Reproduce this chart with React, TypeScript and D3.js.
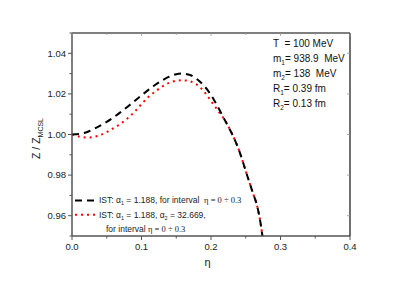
import React, { useEffect, useRef } from "react";
import * as d3 from "d3";

// eta grid and the two ratio curves Z / Z_MCSL
const etaBlack = [0, 0.01, 0.02, 0.03, 0.04, 0.05, 0.06, 0.07, 0.08, 0.09, 0.1, 0.11, 0.12, 0.13, 0.14, 0.15, 0.16, 0.17, 0.18, 0.19, 0.2, 0.21, 0.22, 0.23, 0.24, 0.25, 0.26, 0.265, 0.27, 0.274];
const zBlack = [1.0, 1.0002, 1.001, 1.0025, 1.0042, 1.0062, 1.0085, 1.011, 1.0137, 1.0165, 1.0193, 1.022, 1.0245, 1.0267, 1.0285, 1.0297, 1.03, 1.0293, 1.0272, 1.024, 1.0195, 1.0135, 1.007, 1.0005, 0.9925, 0.982, 0.9715, 0.9665, 0.959, 0.95];
const etaRed = [0, 0.01, 0.02, 0.03, 0.04, 0.05, 0.06, 0.07, 0.08, 0.09, 0.1, 0.11, 0.12, 0.13, 0.14, 0.15, 0.16, 0.17, 0.18, 0.19, 0.2, 0.21, 0.22, 0.23, 0.24, 0.25, 0.26, 0.265, 0.27, 0.274];
const zRed = [1.0, 0.999, 0.9985, 0.9987, 0.9997, 1.0012, 1.0032, 1.0053, 1.008, 1.0112, 1.015, 1.0185, 1.0212, 1.0237, 1.0255, 1.0265, 1.0267, 1.0262, 1.0245, 1.0212, 1.0165, 1.0118, 1.007, 1.0005, 0.9925, 0.982, 0.9715, 0.9665, 0.959, 0.95];

const xMajor = [0, 0.1, 0.2, 0.3, 0.4];
const xMinor = [0.05, 0.15, 0.25, 0.35];
const yMajor = [0.96, 0.98, 1.0, 1.02, 1.04];
const yMinor = [0.95, 0.97, 0.99, 1.01, 1.03, 1.05];

const params = [
  { main: "T", sub: "", rest: "  = 100 MeV" },
  { main: "m", sub: "1", rest: "= 938.9  MeV" },
  { main: "m", sub: "2", rest: "= 138  MeV" },
  { main: "R", sub: "1", rest: "= 0.39 fm" },
  { main: "R", sub: "2", rest: "= 0.13 fm" },
];

const W = 407;
const H = 284;
const FONT = "Liberation Sans, Arial, sans-serif";
const SERIF = "Liberation Serif, Times New Roman, serif";

export default function App() {
  const ref = useRef<SVGSVGElement>(null);

  useEffect(() => {
    const svg = d3.select(ref.current);
    svg.selectAll("*").remove();

    const left = 72, right = 350, top = 33, bottom = 236;
    const x = d3.scaleLinear().domain([0, 0.4]).range([left, right]);
    const y = d3.scaleLinear().domain([0.95, 1.05]).range([bottom, top]);

    svg.append("rect").attr("width", W).attr("height", H).attr("fill", "white");

    const clip = svg.append("clipPath").attr("id", "plot");
    clip.append("rect").attr("x", left).attr("y", top).attr("width", right - left).attr("height", bottom - top + 1);

    const line = d3.line<[number, number]>()
      .x(d => x(d[0]))
      .y(d => y(d[1]))
      .curve(d3.curveCatmullRom);

    const g = svg.append("g").attr("clip-path", "url(#plot)");
    g.append("path")
      .datum(etaRed.map((e, i) => [e, zRed[i]] as [number, number]))
      .attr("d", line)
      .attr("fill", "none")
      .attr("stroke", "#ff0000")
      .attr("stroke-width", 2)
      .attr("stroke-dasharray", "2,4");
    g.append("path")
      .datum(etaBlack.map((e, i) => [e, zBlack[i]] as [number, number]))
      .attr("d", line)
      .attr("fill", "none")
      .attr("stroke", "#000")
      .attr("stroke-width", 2)
      .attr("stroke-dasharray", "7,5");

    // frame
    const axisColor = "#555";
    svg.append("line").attr("x1", left).attr("x2", right).attr("y1", top).attr("y2", top).attr("stroke", axisColor).attr("stroke-width", 1.3);
    svg.append("line").attr("x1", left).attr("x2", right).attr("y1", bottom).attr("y2", bottom).attr("stroke", axisColor).attr("stroke-width", 1.5);
    svg.append("line").attr("x1", left).attr("x2", left).attr("y1", top).attr("y2", bottom).attr("stroke", axisColor).attr("stroke-width", 1.5);
    svg.append("line").attr("x1", right).attr("x2", right).attr("y1", top).attr("y2", bottom).attr("stroke", "#222").attr("stroke-width", 1.3);

    // x ticks
    xMajor.forEach(v => {
      svg.append("line").attr("x1", x(v)).attr("x2", x(v)).attr("y1", bottom).attr("y2", bottom + 4).attr("stroke", axisColor).attr("stroke-width", 1);
      svg.append("line").attr("x1", x(v)).attr("x2", x(v)).attr("y1", top).attr("y2", top + 3).attr("stroke", "#999").attr("stroke-width", 0.8);
      svg.append("text").attr("x", x(v)).attr("y", bottom + 14).attr("text-anchor", "middle")
        .attr("font-family", FONT).attr("font-size", 9.5).attr("fill", "#222").text(d3.format(".1f")(v));
    });
    xMinor.forEach(v => {
      svg.append("line").attr("x1", x(v)).attr("x2", x(v)).attr("y1", bottom).attr("y2", bottom + 2.5).attr("stroke", axisColor).attr("stroke-width", 1);
      svg.append("line").attr("x1", x(v)).attr("x2", x(v)).attr("y1", top).attr("y2", top + 2).attr("stroke", "#999").attr("stroke-width", 0.8);
    });

    // y ticks
    yMajor.forEach(v => {
      svg.append("line").attr("x1", left - 4).attr("x2", left).attr("y1", y(v)).attr("y2", y(v)).attr("stroke", axisColor).attr("stroke-width", 1);
      svg.append("line").attr("x1", right - 3).attr("x2", right).attr("y1", y(v)).attr("y2", y(v)).attr("stroke", "#999").attr("stroke-width", 0.8);
      svg.append("text").attr("x", left - 6).attr("y", y(v)).attr("dy", "0.35em").attr("text-anchor", "end")
        .attr("font-family", FONT).attr("font-size", 9.5).attr("fill", "#222").text(d3.format(".2f")(v));
    });
    yMinor.forEach(v => {
      svg.append("line").attr("x1", left - 2.5).attr("x2", left).attr("y1", y(v)).attr("y2", y(v)).attr("stroke", axisColor).attr("stroke-width", 1);
    });

    // axis titles
    svg.append("text").attr("x", x(0.195)).attr("y", 266).attr("text-anchor", "middle")
      .attr("font-family", FONT).attr("font-size", 11).attr("fill", "#222").text("η");

    const yl = svg.append("text").attr("transform", `translate(40, ${y(1.0) + 4}) rotate(-90)`).attr("text-anchor", "middle")
      .attr("font-family", FONT).attr("font-size", 10.5).attr("fill", "#222");
    yl.append("tspan").text("Z / Z");
    yl.append("tspan").attr("dy", 2.5).attr("font-size", 7).text("MCSL");

    // parameter block
    params.forEach((p, i) => {
      const t = svg.append("text").attr("x", 273).attr("y", 47 + i * 15)
        .attr("font-family", FONT).attr("font-size", 10).attr("fill", "#111")
        .style("white-space", "pre");
      t.append("tspan").text(p.main);
      if (p.sub) {
        t.append("tspan").attr("dy", 2.5).attr("font-size", 6.5).text(p.sub);
        t.append("tspan").attr("dy", -2.5).text(p.rest);
      } else {
        t.append("tspan").text(p.rest);
      }
    });

    // legend
    svg.append("line").attr("x1", 75).attr("x2", 95).attr("y1", y(0.9675)).attr("y2", y(0.9675))
      .attr("stroke", "#000").attr("stroke-width", 2).attr("stroke-dasharray", "7,5");
    svg.append("line").attr("x1", 75).attr("x2", 95).attr("y1", y(0.9605)).attr("y2", y(0.9605))
      .attr("stroke", "#ff0000").attr("stroke-width", 2).attr("stroke-dasharray", "2,4");

    const legendText = (tx: number, ty: number) => svg.append("text").attr("x", tx).attr("y", ty)
      .attr("font-family", FONT).attr("font-size", 8.5).attr("fill", "#222").style("white-space", "pre");

    const l1 = legendText(99, y(0.9675) + 3);
    l1.append("tspan").text("IST: α");
    l1.append("tspan").attr("dy", 2).attr("font-size", 5.5).text("1");
    l1.append("tspan").attr("dy", -2).text(" = 1.188, for interval  ");
    l1.append("tspan").attr("font-family", SERIF).text("η = 0 ÷ 0.3");

    const l2 = legendText(99, y(0.9605) + 3);
    l2.append("tspan").text("IST: α");
    l2.append("tspan").attr("dy", 2).attr("font-size", 5.5).text("1");
    l2.append("tspan").attr("dy", -2).text(" = 1.188, α");
    l2.append("tspan").attr("dy", 2).attr("font-size", 5.5).text("2");
    l2.append("tspan").attr("dy", -2).text(" = 32.669,");

    const l3 = legendText(106, y(0.9535) + 3);
    l3.append("tspan").text("for interval ");
    l3.append("tspan").attr("font-family", SERIF).text("η = 0 ÷ 0.3");
  }, []);

  return (
    <svg ref={ref} width={W} height={H} style={{ position: "fixed", left: 0, top: 0 }} />
  );
}
